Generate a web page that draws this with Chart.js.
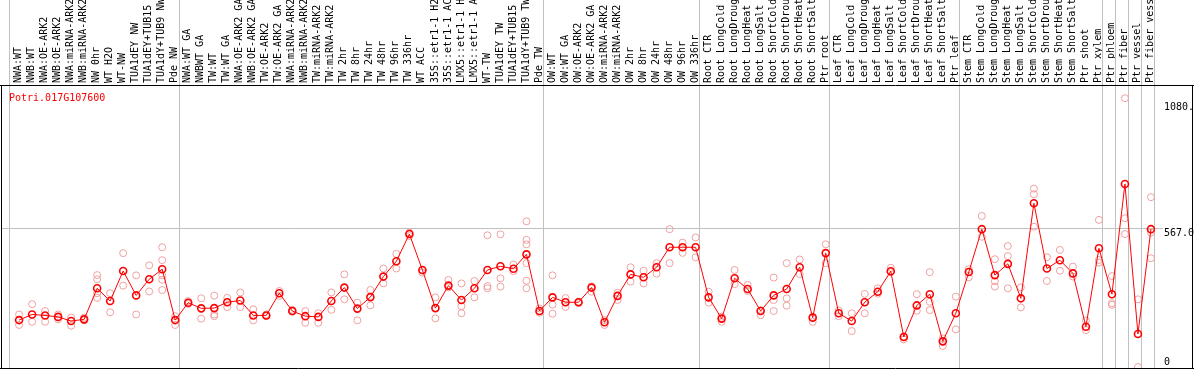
<!DOCTYPE html>
<html>
<head>
<meta charset="utf-8">
<script src="https://cdn.jsdelivr.net/npm/chart.js@4.4.1/dist/chart.umd.min.js"></script>
<style>
  html, body { margin: 0; padding: 0; background: #fff; overflow: hidden; }
  canvas { display: block; }
</style>
</head>
<body>
<canvas id="chart" width="1194" height="370"></canvas>
<script>
// expression profile for one gene: mean per sample (line) + replicates (pale circles)
const GENE = 'Potri.017G107600';

const categories = [
  'NWA:WT', 'NWB:WT', 'NWA:OE-ARK2', 'NWB:OE-ARK2', 'NWA:miRNA-ARK2', 'NWB:miRNA-ARK2',
  'NW 0hr', 'WT H2O', 'WT-NW', 'TUA1dEY NW', 'TUA1dEY+TUB15 NW', 'TUA1dY+TUB9 NW', 'Pde NW',
  'NWA:WT GA', 'NWBWT GA', 'TW:WT', 'TW:WT GA', 'NWA:OE-ARK2 GA', 'NWB:OE-ARK2 GA',
  'TW:OE-ARK2', 'TW:OE-ARK2 GA', 'NWA:miRNA-ARK2 GA', 'NWB:miRNA-ARK2 GA', 'TW:miRNA-ARK2',
  'TW:miRNA-ARK2', 'TW 2hr', 'TW 8hr', 'TW 24hr', 'TW 48hr', 'TW 96hr', 'TW 336hr', 'WT ACC',
  '35S::etr1-1 H2O', '35S::etr1-1 ACC', 'LMX5::etr1-1 H2O', 'LMX5::etr1-1 ACC', 'WT-TW',
  'TUA1dEY TW', 'TUA1dEY+TUB15 TW', 'TUA1dY+TUB9 TW', 'Pde TW',
  'OW:WT', 'OW:WT GA', 'OW:OE-ARK2', 'OW:OE-ARK2 GA', 'OW:miRNA-ARK2', 'OW:miRNA-ARK2',
  'OW 2hr', 'OW 8hr', 'OW 24hr', 'OW 48hr', 'OW 96hr', 'OW 336hr',
  'Root CTR', 'Root LongCold', 'Root LongDrought', 'Root LongHeat', 'Root LongSalt',
  'Root ShortCold', 'Root ShortDrought', 'Root ShortHeat', 'Root ShortSalt', 'Ptr root',
  'Leaf CTR', 'Leaf LongCold', 'Leaf LongDrought', 'Leaf LongHeat', 'Leaf LongSalt',
  'Leaf ShortCold', 'Leaf ShortDrought', 'Leaf ShortHeat', 'Leaf ShortSalt', 'Ptr leaf',
  'Stem CTR', 'Stem LongCold', 'Stem LongDrought', 'Stem LongHeat', 'Stem LongSalt',
  'Stem ShortCold', 'Stem ShortDrought', 'Stem ShortHeat', 'Stem ShortSalt', 'Ptr shoot',
  'Ptr xylem', 'Ptr phloem', 'Ptr fiber', 'Ptr vessel', 'Ptr fiber vessel',
];

const meanValues = [
  192, 215, 211, 205, 188, 195, 322, 270, 393, 293, 359, 400, 192,
  263, 240, 241, 265, 272, 211, 211, 302, 229, 208, 205, 270, 325, 239, 286, 370, 433,
  544, 397, 241, 333, 274, 322, 397, 412, 402, 461, 229,
  285, 265, 265, 325, 183, 291, 379, 367, 408, 490, 490, 490,
  285, 198, 363, 319, 229, 293, 319, 408, 202, 466,
  220, 188, 265, 308, 392, 123, 252, 298, 105, 220,
  389, 564, 376, 422, 281, 670, 403, 437, 383, 165, 486,
  298, 749, 135, 564,
];

const replicateValues = [
  [215, 172], [257, 185], [229, 185], [215, 195], [202, 169], [202, 191],
  [376, 359, 302, 283], [302, 224], [466, 333], [375, 215], [416, 309],
  [490, 437, 375, 357, 315], [208, 172],
  [270, 258], [281, 198], [292, 215, 208], [283, 245], [305, 245], [236, 191],
  [215, 208], [311, 291], [234, 226], [229, 181], [220, 181], [305, 234],
  [379, 277], [263, 191], [315, 252], [403, 342], [463, 403], [550, 536],
  [386, 395], [285, 199], [356, 326], [342, 249, 220], [352, 285],
  [539, 331, 322], [543, 363, 329], [419, 392], [596, 520, 502, 425, 353, 322],
  [240, 222],
  [375, 255, 218], [282, 246], [268, 262], [308, 330], [172, 192], [304, 274],
  [408, 349], [394, 342], [425, 382], [564, 425], [509, 467], [530, 449],
  [308, 263], [206, 185], [397, 339], [336, 311], [212, 232], [366, 274, 229],
  [425, 281, 251], [440, 380], [185, 205], [502, 425],
  [231, 208], [220, 147], [299, 220], [322, 300], [406, 388], [113, 125],
  [298, 230], [388, 267, 233], [117, 86], [288, 154],
  [400, 367], [618, 533], [441, 351, 329], [495, 454, 322], [326, 244],
  [730, 707, 574], [449, 352], [479, 394], [411, 370], [190, 151],
  [602, 438, 427],
  [372, 261, 254], [1100, 609, 544], [277, 0], [695, 550, 445],
];

// first category index of each sample group (the last entry closes the plot)
const groupStarts = [0, 13, 41, 53, 63, 73, 84, 85, 86, 87, 88];
const yTicks = [0, 567, 1080];

const GRID = '#c0c0c0';
const RED = '#ff0000';
const PALE = '#f0a0a0';
const FONT = { family: '"DejaVu Sans Mono", monospace', size: 10 };
// points sit a bit right of the middle of their slot, as in the original
const SLOT_OFFSET = 0.7;
const X_MIN = -1.39, X_MAX = 87.31;

const meanPoints = meanValues.map((v, i) => ({ x: i, y: v }));
const repPoints = replicateValues.flatMap((reps, i) => reps.map((v) => ({ x: i, y: v })));

const framePlugin = {
  id: 'frame',
  beforeDatasetsDraw(chart) {
    const { ctx, chartArea, scales } = chart;
    // group separators continue up through the label strip
    ctx.save();
    ctx.strokeStyle = GRID;
    ctx.lineWidth = 1;
    scales.x.ticks.forEach((t) => {
      const px = Math.round(scales.x.getPixelForValue(t.value) - 0.5) + 0.5;
      ctx.beginPath();
      ctx.moveTo(px, 0);
      ctx.lineTo(px, chartArea.top);
      ctx.stroke();
    });
    ctx.restore();
  },
  afterDraw(chart) {
    const { ctx, chartArea, width } = chart;
    ctx.save();
    ctx.strokeStyle = '#000';
    ctx.lineWidth = 1;
    ctx.beginPath();
    ctx.moveTo(0, chartArea.top + 0.5); ctx.lineTo(width, chartArea.top + 0.5);
    ctx.moveTo(0, chartArea.bottom - 0.5); ctx.lineTo(width, chartArea.bottom - 0.5);
    ctx.moveTo(1.5, chartArea.top); ctx.lineTo(1.5, chartArea.bottom);
    ctx.moveTo(width - 1.5, chartArea.top); ctx.lineTo(width - 1.5, chartArea.bottom);
    ctx.stroke();
    ctx.fillStyle = RED;
    ctx.font = '10px "DejaVu Sans Mono", monospace';
    ctx.textBaseline = 'alphabetic';
    ctx.fillText(GENE, 9, chartArea.top + 15.5);
    ctx.restore();
  },
};

new Chart(document.getElementById('chart'), {
  type: 'line',
  data: {
    datasets: [
      {
        label: 'mean',
        data: meanPoints,
        borderColor: RED,
        borderWidth: 1,
        pointRadius: 3.5,
        pointBorderWidth: 1.6,
        pointBorderColor: RED,
        pointBackgroundColor: 'rgba(0,0,0,0)',
        tension: 0,
      },
      {
        label: 'replicates',
        data: repPoints,
        showLine: false,
        pointRadius: 3.5,
        pointBorderWidth: 1,
        pointBorderColor: PALE,
        pointBackgroundColor: 'rgba(0,0,0,0)',
      },
    ],
  },
  options: {
    responsive: false,
    animation: false,
    devicePixelRatio: 1,
    layout: { autoPadding: false, padding: { left: 1, right: 0, top: 0, bottom: 1 } },
    plugins: { legend: { display: false }, tooltip: { enabled: false } },
    scales: {
      x: {
        type: 'linear',
        position: 'bottom',
        min: X_MIN,
        max: X_MAX,
        afterBuildTicks: (s) => { s.ticks = groupStarts.map((g) => ({ value: g - SLOT_OFFSET })); },
        afterFit: (s) => { s.height = 0; },
        ticks: { display: false },
        grid: { color: GRID, lineWidth: 1, drawTicks: false },
        border: { display: false },
      },
      labels: {
        type: 'linear',
        position: 'top',
        axis: 'x',
        min: X_MIN,
        max: X_MAX,
        afterBuildTicks: (s) => { s.ticks = categories.map((_, i) => ({ value: i })); },
        afterFit: (s) => { s.height = 85; s.paddingLeft = 0; s.paddingRight = 0; },
        ticks: {
          autoSkip: false,
          minRotation: 90,
          maxRotation: 90,
          padding: 2,
          labelOffset: 11.5,
          color: '#000',
          font: FONT,
          callback: (v) => categories[v] ?? '',
        },
        grid: { display: false, drawTicks: false },
        border: { display: false },
      },
      y: {
        type: 'linear',
        position: 'right',
        min: -8.2,
        max: 1154,
        afterBuildTicks: (s) => { s.ticks = yTicks.map((v) => ({ value: v })); },
        afterFit: (s) => { s.width = 39; s.paddingTop = 0; s.paddingBottom = 0; },
        ticks: {
          color: '#000',
          padding: 1,
          font: { ...FONT, lineHeight: '9px' },
          // empty line above/below nudges the label half a line, like the original
          callback: (v) => (v === 0 ? ['0', ''] : ['', v.toFixed(1)]),
        },
        grid: {
          color: (c) => (c.tick && c.tick.value === yTicks[1] ? GRID : 'rgba(0,0,0,0)'),
          drawTicks: true,
          tickLength: 8,
        },
        border: { display: false },
      },
    },
  },
  plugins: [framePlugin],
});
</script>
</body>
</html>
